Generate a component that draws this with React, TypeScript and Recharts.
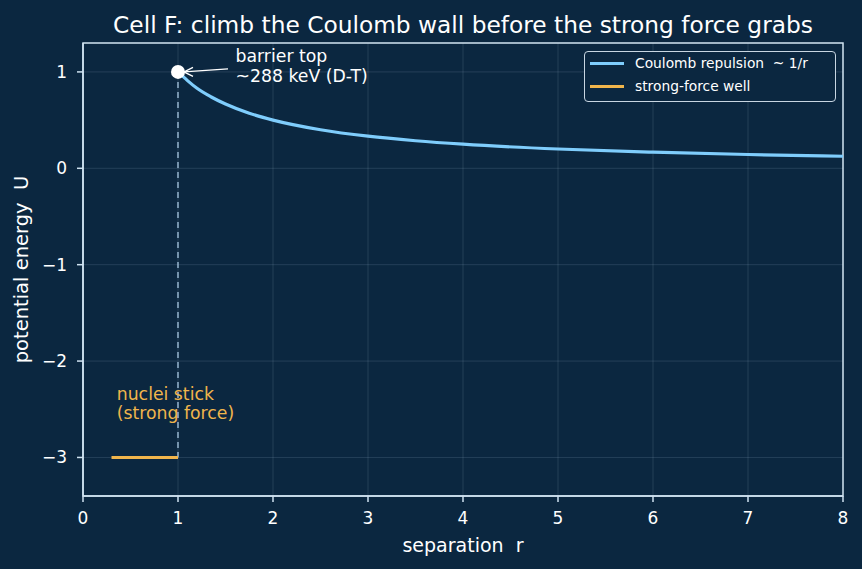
import {
  ComposedChart,
  Line,
  XAxis,
  YAxis,
  CartesianGrid,
  ReferenceLine,
  ReferenceDot,
  ReferenceArea,
} from 'recharts';

// Coulomb curve (r, U)
const coulombR = [1, 1.1, 1.2, 1.35, 1.5, 1.75, 2, 2.5, 3, 3.5, 4, 5, 6, 7, 8];
const coulombU = [1, 0.91, 0.83, 0.74, 0.667, 0.571, 0.5, 0.4, 0.333, 0.286, 0.25, 0.2, 0.167, 0.143, 0.125];

// strong-force well segment
const wellR = [0.3, 1];
const wellU = [-3, -3];

const xTicks = [0, 1, 2, 3, 4, 5, 6, 7, 8];
const yTicks = [-3, -2, -1, 0, 1];

const coulombData = coulombR.map((r, i) => ({ r, u: coulombU[i] }));
const wellData = wellR.map((r, i) => ({ r, u: wellU[i] }));

const BG = '#0b2740';
const SPINE = '#cfe2f0';
const BLUE = '#7fcdfc';
const ORANGE = '#f0b54c';
const FONT = '"DejaVu Sans", sans-serif';

const legendItems = [
  { name: 'Coulomb repulsion  ~ 1/r', color: BLUE },
  { name: 'strong-force well', color: ORANGE },
];

const BarrierLabel = (props: any) => {
  const vb = props.viewBox || {};
  const cx = vb.x + vb.width / 2;
  const cy = vb.y + vb.height / 2;
  const tipX = cx + 6;
  const tipY = cy;
  return (
    <g>
      <line x1={cx + 50} y1={cy - 3} x2={tipX} y2={tipY} stroke="#ffffff" strokeWidth={1.4} />
      <polyline
        points={`${tipX + 9},${tipY - 4.5} ${tipX},${tipY} ${tipX + 9},${tipY + 4.5}`}
        fill="none"
        stroke="#ffffff"
        strokeWidth={1.4}
      />
      <text x={cx + 57.5} y={cy - 10.3} fill="#ffffff" fontSize={17.3} fontFamily={FONT}>
        barrier top
      </text>
      <text x={cx + 57.5} y={cy + 10.3} fill="#ffffff" fontSize={17.3} fontFamily={FONT}>
        ~288 keV (D-T)
      </text>
    </g>
  );
};

const NucleiLabel = (props: any) => {
  const vb = props.viewBox || {};
  const x = vb.x + vb.width / 2;
  const y = vb.y + vb.height / 2;
  return (
    <g>
      <text x={x} y={y} fill={ORANGE} fontSize={17.3} fontFamily={FONT}>
        nuclei stick
      </text>
      <text x={x} y={y + 19.5} fill={ORANGE} fontSize={17.3} fontFamily={FONT}>
        (strong force)
      </text>
    </g>
  );
};

export default function App() {
  return (
    <div
      style={{
        position: 'absolute',
        left: 0,
        top: 0,
        width: 862,
        height: 569,
        background: BG,
        fontFamily: FONT,
      }}
    >
      <div
        style={{
          position: 'absolute',
          top: 13,
          left: 83,
          width: 760,
          textAlign: 'center',
          color: '#ffffff',
          fontSize: 23.3,
          lineHeight: '23px',
          whiteSpace: 'pre',
        }}
      >
        Cell F: climb the Coulomb wall before the strong force grabs
      </div>
      <ComposedChart
        width={862}
        height={569}
        margin={{ top: 43, right: 19, bottom: 13, left: 20 }}
        style={{ fontFamily: FONT, position: 'absolute', left: 0, top: 0 }}
      >
        <CartesianGrid stroke="rgba(200,225,245,0.17)" strokeWidth={0.8} />
        <XAxis
          dataKey="r"
          type="number"
          domain={[0, 8]}
          ticks={xTicks}
          allowDataOverflow
          height={60}
          stroke={SPINE}
          strokeWidth={1.5}
          tickSize={6}
          tickMargin={10}
          tick={{ fill: '#ffffff', fontSize: 17 }}
          label={{
            value: 'separation\u00a0\u00a0r',
            position: 'insideBottom',
            offset: 4,
            fill: '#ffffff',
            fontSize: 19,
          }}
        />
        <YAxis
          type="number"
          domain={[-3.4, 1.3]}
          ticks={yTicks}
          allowDataOverflow
          width={63}
          stroke={SPINE}
          strokeWidth={1.5}
          tickSize={6}
          tickMargin={10}
          tickFormatter={(v: number) => (v < 0 ? `\u2212${Math.abs(v)}` : `${v}`)}
          tick={{ fill: '#ffffff', fontSize: 17 }}
          label={{
            value: 'potential energy\u00a0\u00a0U',
            angle: -90,
            position: 'insideLeft',
            offset: 1.5,
            fill: '#ffffff',
            fontSize: 19.5,
            style: { textAnchor: 'middle' },
          }}
        />
        <ReferenceArea x1={0} x2={8} y1={-3.4} y2={1.3} fill="none" stroke={SPINE} strokeWidth={1.5} />
        <ReferenceLine
          segment={[
            { x: 1, y: 1 },
            { x: 1, y: -3 },
          ]}
          stroke="#9dbcd6"
          strokeWidth={1.4}
          strokeDasharray="6 4"
        />
        <Line
          data={wellData}
          dataKey="u"
          name="strong-force well"
          stroke={ORANGE}
          strokeWidth={3}
          dot={false}
          isAnimationActive={false}
        />
        <Line
          data={coulombData}
          dataKey="u"
          name="Coulomb repulsion  ~ 1/r"
          type="monotone"
          stroke={BLUE}
          strokeWidth={3.2}
          dot={false}
          isAnimationActive={false}
        />
        <ReferenceDot x={1} y={1} r={7} fill="#ffffff" stroke="none" label={<BarrierLabel />} />
        <ReferenceDot x={0.355} y={-2.4} r={0} fill="none" stroke="none" label={<NucleiLabel />} />
      </ComposedChart>
      <div
        style={{
          position: 'absolute',
          left: 584,
          top: 51,
          width: 252,
          height: 51,
          boxSizing: 'border-box',
          border: '1px solid #c8d6e2',
          borderRadius: 4,
          background: BG,
          padding: '0 6px 0 5px',
          fontSize: 13.8,
          color: '#ffffff',
          lineHeight: '23px',
        }}
      >
        {legendItems.map((item) => (
          <div key={item.name} style={{ display: 'flex', alignItems: 'center', whiteSpace: 'pre', height: 23 }}>
            <div style={{ width: 34, height: 3, background: item.color, marginRight: 11, flexShrink: 0 }} />
            <span>{item.name}</span>
          </div>
        ))}
      </div>
    </div>
  );
}
